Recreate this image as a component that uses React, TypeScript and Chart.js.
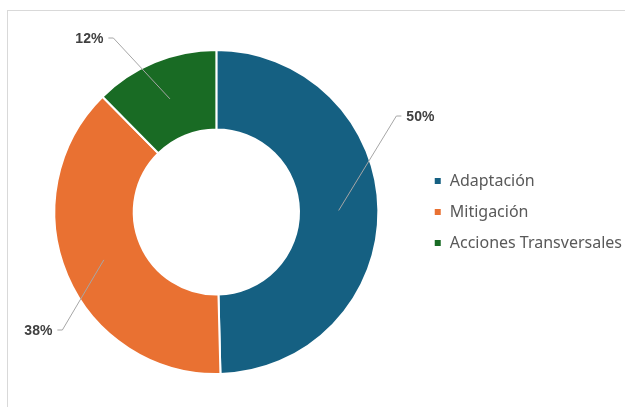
import React, { useEffect, useRef } from "react";
import { Chart, registerables } from "chart.js";

Chart.register(...registerables);

const categories = ["Adaptación", "Mitigación", "Acciones Transversales"];
const values = [49.6, 38.0, 12.4];
const colors = ["#156082", "#E97132", "#196B24"];

const leaderPlugin = {
  id: "leaderLabels",
  afterDatasetsDraw(chart: any, _args: any, opts: any) {
    const ctx = chart.ctx;
    const meta = chart.getDatasetMeta(0);
    const data = chart.data.datasets[0].data as number[];
    const total = data.reduce((a, b) => a + b, 0);
    meta.data.forEach((arc: any, i: number) => {
      const p = arc.getProps(["x", "y", "startAngle", "endAngle", "innerRadius", "outerRadius"], true);
      const mid = (p.startAngle + p.endAngle) / 2;
      const r = (p.innerRadius + p.outerRadius) / 2;
      const ax = p.x + Math.cos(mid) * r;
      const ay = p.y + Math.sin(mid) * r;
      const off = opts.offsets[i];
      const side = off[2];
      const ex = p.x + off[0];
      const ey = p.y + off[1];
      const hx = ex + side * 5;
      ctx.save();
      ctx.strokeStyle = "#a6a6a6";
      ctx.lineWidth = 1;
      ctx.beginPath();
      ctx.moveTo(ax, ay);
      ctx.lineTo(ex, ey);
      ctx.lineTo(hx, ey);
      ctx.stroke();
      ctx.fillStyle = "#404040";
      ctx.font = "bold 14px 'Liberation Sans', Arial, sans-serif";
      ctx.textAlign = side > 0 ? "left" : "right";
      ctx.textBaseline = "middle";
      ctx.fillText(Math.round((data[i] / total) * 100) + "%", hx + side * 5, ey + 1);
      ctx.restore();
    });
  },
};

export default function App() {
  const ref = useRef<HTMLCanvasElement>(null);
  useEffect(() => {
    if (!ref.current) return;
    const chart = new Chart(ref.current, {
      type: "doughnut",
      data: {
        labels: categories,
        datasets: [
          {
            data: values,
            backgroundColor: colors,
            borderColor: "#ffffff",
            borderWidth: 2,
          },
        ],
      },
      options: {
        responsive: false,
        animation: false,
        cutout: "51%",
        layout: { padding: { top: 49, bottom: 32, left: 14, right: -7 } },
        plugins: {
          legend: {
            position: "right",
            align: "center",
            labels: {
              boxWidth: 8,
              boxHeight: 8,
              padding: 15,
              color: "#595959",
              font: { size: 16, family: "'Noto Sans', sans-serif" },
            },
          },
          tooltip: { enabled: false },
          leaderLabels: {
            offsets: [
              [180, -96, 1],
              [-154, 118, -1],
              [-103, -174, -1],
            ],
          },
        } as any,
      },
      plugins: [leaderPlugin],
    });
    return () => chart.destroy();
  }, []);
  return (
    <div style={{ position: "fixed", left: 0, top: 0, width: 625, height: 407, background: "#fff" }}>
      <div
        style={{
          position: "absolute",
          left: 7,
          top: 10,
          right: 0,
          bottom: 0,
          borderTop: "1px solid #d9d9d9",
          borderLeft: "1px solid #d9d9d9",
        }}
      />
      <canvas ref={ref} width={625} height={407} style={{ position: "absolute", left: 0, top: 0 }} />
    </div>
  );
}
